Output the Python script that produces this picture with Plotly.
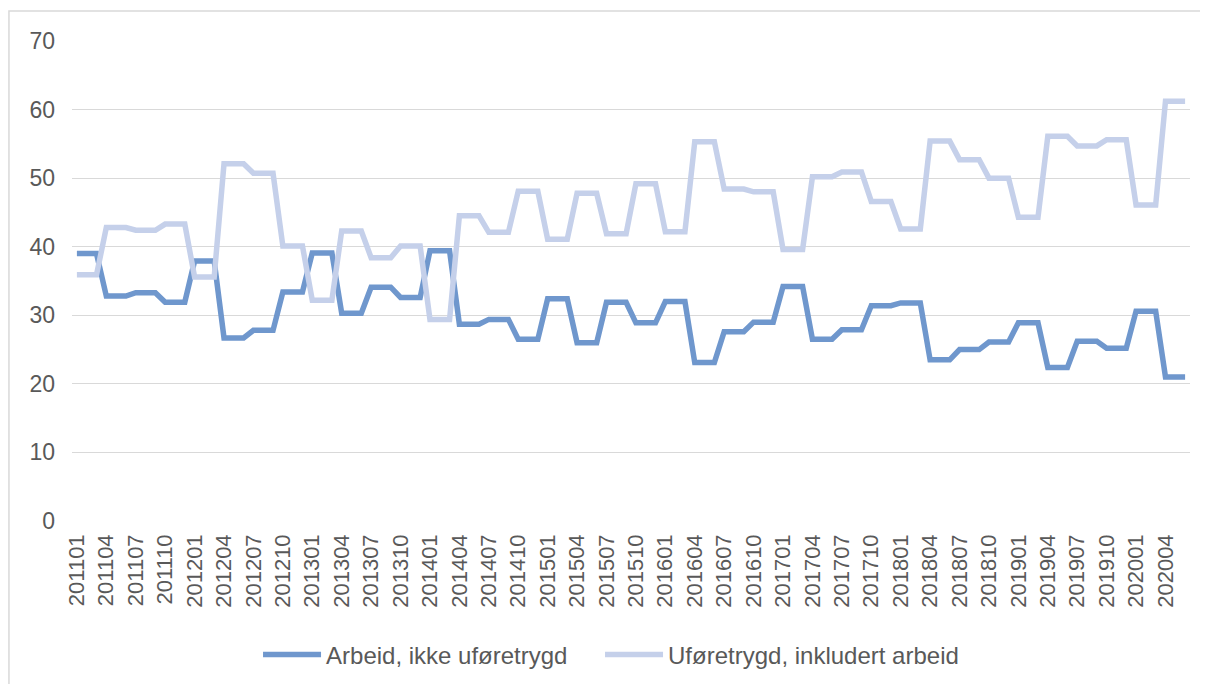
import plotly.graph_objects as go

# Monthly categories 201101 .. 202006
months = [f"{y}{m:02d}" for y in range(2011, 2021) for m in range(1, 13)][:114]
tick_labels = months[::3]

# Values (constant within each quarter)
arbeid_ikke_ufor = [
    39.0, 39.0, 39.0, 32.8, 32.8, 32.8, 33.3, 33.3, 33.3, 31.9, 31.9, 31.9,  # 2011
    37.9, 37.9, 37.9, 26.7, 26.7, 26.7, 27.8, 27.8, 27.8, 33.4, 33.4, 33.4,  # 2012
    39.1, 39.1, 39.1, 30.3, 30.3, 30.3, 34.1, 34.1, 34.1, 32.6, 32.6, 32.6,  # 2013
    39.4, 39.4, 39.4, 28.7, 28.7, 28.7, 29.4, 29.4, 29.4, 26.5, 26.5, 26.5,  # 2014
    32.4, 32.4, 32.4, 26.0, 26.0, 26.0, 31.9, 31.9, 31.9, 28.9, 28.9, 28.9,  # 2015
    32.0, 32.0, 32.0, 23.1, 23.1, 23.1, 27.6, 27.6, 27.6, 29.0, 29.0, 29.0,  # 2016
    34.2, 34.2, 34.2, 26.5, 26.5, 26.5, 27.9, 27.9, 27.9, 31.4, 31.4, 31.4,  # 2017
    31.8, 31.8, 31.8, 23.5, 23.5, 23.5, 25.0, 25.0, 25.0, 26.1, 26.1, 26.1,  # 2018
    28.9, 28.9, 28.9, 22.4, 22.4, 22.4, 26.2, 26.2, 26.2, 25.2, 25.2, 25.2,  # 2019
    30.6, 30.6, 30.6, 21.0, 21.0, 21.0,                                      # 2020
]

uforetrygd_inkl_arbeid = [
    35.9, 35.9, 35.9, 42.8, 42.8, 42.8, 42.4, 42.4, 42.4, 43.3, 43.3, 43.3,  # 2011
    35.6, 35.6, 35.6, 52.1, 52.1, 52.1, 50.7, 50.7, 50.7, 40.1, 40.1, 40.1,  # 2012
    32.2, 32.2, 32.2, 42.3, 42.3, 42.3, 38.4, 38.4, 38.4, 40.1, 40.1, 40.1,  # 2013
    29.4, 29.4, 29.4, 44.5, 44.5, 44.5, 42.1, 42.1, 42.1, 48.1, 48.1, 48.1,  # 2014
    41.1, 41.1, 41.1, 47.8, 47.8, 47.8, 41.9, 41.9, 41.9, 49.2, 49.2, 49.2,  # 2015
    42.2, 42.2, 42.2, 55.3, 55.3, 55.3, 48.4, 48.4, 48.4, 48.0, 48.0, 48.0,  # 2016
    39.6, 39.6, 39.6, 50.2, 50.2, 50.2, 50.9, 50.9, 50.9, 46.6, 46.6, 46.6,  # 2017
    42.6, 42.6, 42.6, 55.4, 55.4, 55.4, 52.7, 52.7, 52.7, 50.0, 50.0, 50.0,  # 2018
    44.3, 44.3, 44.3, 56.1, 56.1, 56.1, 54.7, 54.7, 54.7, 55.6, 55.6, 55.6,  # 2019
    46.1, 46.1, 46.1, 61.2, 61.2, 61.2,                                      # 2020
]

series_names = ["Arbeid, ikke uføretrygd", "Uføretrygd, inkludert arbeid"]
colors = ["#6F97CD", "#C5D0EA"]
legend_ids = ["legend", "legend2"]

FONT = "Liberation Sans, Arial, sans-serif"

fig = go.Figure()
for name, vals, col, lg in zip(series_names, [arbeid_ikke_ufor, uforetrygd_inkl_arbeid], colors, legend_ids):
    fig.add_trace(go.Scatter(
        x=months, y=vals, name=name, mode="lines", legend=lg,
        line=dict(color=col, width=5.5, shape="linear"),
    ))

legend_common = dict(
    orientation="h", xanchor="left", y=-0.279, yanchor="middle",
    font=dict(size=24, color="#595959", family=FONT),
    itemwidth=58, bgcolor="rgba(0,0,0,0)",
)

fig.update_layout(
    width=1208, height=684,
    margin=dict(l=64, r=26, t=33, b=171),
    paper_bgcolor="white", plot_bgcolor="white",
    font=dict(family=FONT, color="#595959"),
    showlegend=True,
    legend=dict(x=0.1664, **legend_common),
    legend2=dict(x=0.4723, **legend_common),
    xaxis=dict(
        type="category", range=[-0.5, 113.5],
        tickmode="array", tickvals=tick_labels, ticktext=tick_labels,
        tickangle=-90, tickfont=dict(size=22, color="#595959"),
        showgrid=False, showline=False, ticks="", zeroline=False,
        ticklabelstandoff=8,
    ),
    yaxis=dict(
        range=[0, 70], tickvals=[0, 10, 20, 30, 40, 50, 60, 70],
        showgrid=True, gridcolor="#D9D9D9", gridwidth=1.3,
        tickfont=dict(size=23, color="#595959"),
        zeroline=False, showline=False, ticks="",
        ticklabelstandoff=16,
    ),
    shapes=[dict(
        type="rect", xref="paper", yref="paper",
        x0=-0.0564, x1=1.2, y0=-0.6, y1=1.0625,
        line=dict(color="#D9D9D9", width=1.5), fillcolor="rgba(0,0,0,0)", layer="below",
    )],
)

fig.write_html("out.html")
